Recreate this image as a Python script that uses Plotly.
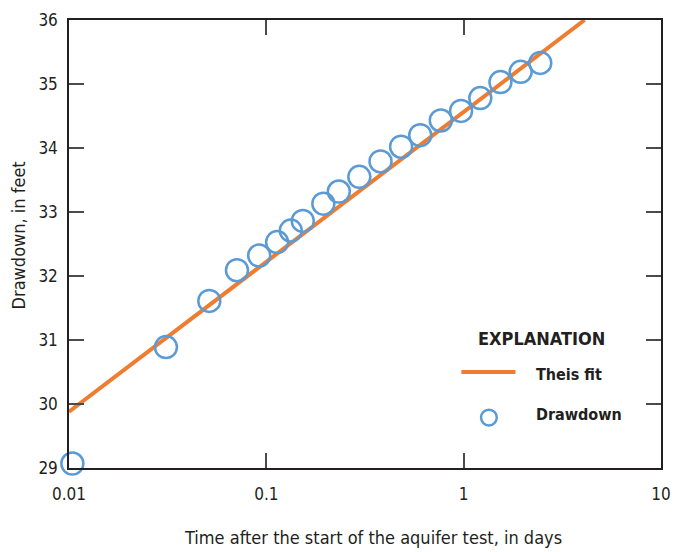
import plotly.graph_objects as go

# Observed drawdown during the aquifer test
time_days = [0.0104, 0.031, 0.0514, 0.071, 0.092, 0.1134, 0.133, 0.153, 0.1945,
             0.233, 0.296, 0.379, 0.482, 0.6025, 0.766, 0.970, 1.214, 1.536,
             1.945, 2.444]
drawdown_ft = [29.07, 30.89, 31.61, 32.09, 32.32, 32.53, 32.71, 32.86, 33.13,
               33.32, 33.55, 33.79, 34.02, 34.20, 34.43, 34.58, 34.78, 35.03,
               35.19, 35.33]

# Theis fit (straight line on semi-log axes)
fit_time = [0.01, 0.1, 1.0, 4.1]
fit_drawdown = [29.88, 32.22, 34.57, 36.0]

x_tickvals = [0.01, 0.1, 1, 10]
x_ticktext = ["0.01", "0.1", "1", "10"]
y_tickvals = [29, 30, 31, 32, 33, 34, 35, 36]

FONT = "Liberation Sans Narrow, Arial Narrow, DejaVu Sans Condensed, sans-serif"
ORANGE = "#EE7D31"
BLUE = "#5B9BD5"
AXIS = "#231F20"

fig = go.Figure()
fig.add_trace(go.Scatter(x=fit_time, y=fit_drawdown, mode="lines",
                         line=dict(color=ORANGE, width=4), showlegend=False))
fig.add_trace(go.Scatter(x=time_days, y=drawdown_ft, mode="markers",
                         marker=dict(symbol="circle-open", size=22, color=BLUE,
                                     line=dict(color=BLUE, width=2.5)),
                         cliponaxis=False, showlegend=False))

W, H = 681, 552
L, R, T, B = 69, 10, 15, 84
pw, ph = W - L - R, H - T - B


def px(x):
    return (x - L) / pw


def py(y):
    return (H - B - y) / ph


axis_common = dict(showline=True, linecolor=AXIS, linewidth=1.5, mirror="ticks",
                   ticks="inside", ticklen=15, tickwidth=1.5, tickcolor="#4a4a4a",
                   showgrid=False, zeroline=False,
                   tickfont=dict(family=FONT, size=17, color="#231F20"))

fig.update_layout(
    width=W, height=H,
    margin=dict(l=L, r=R, t=T, b=B),
    plot_bgcolor="white", paper_bgcolor="white",
    xaxis=dict(type="log", range=[-2, 1], tickvals=x_tickvals, ticktext=x_ticktext,
               ticklabelstandoff=10, **axis_common),
    yaxis=dict(range=[29, 36], tickvals=y_tickvals, ticklabelstandoff=6,
               **axis_common),
    font=dict(family=FONT, color="#231F20"),
)

annotations = [
    dict(text="Time after the start of the aquifer test, in days", x=px(378.5), y=py(538),
         font=dict(size=18)),
    dict(text="Drawdown, in feet", x=px(18), y=py(233), textangle=-90,
         font=dict(size=18)),
    dict(text="<b>EXPLANATION</b>", x=px(549.5), y=py(337), font=dict(size=18)),
    dict(text="<b>Theis fit</b>", x=px(542), y=py(373), xanchor="left",
         font=dict(size=16)),
    dict(text="<b>Drawdown</b>", x=px(542), y=py(414), xanchor="left",
         font=dict(size=16)),
]
for a in annotations:
    a.setdefault("xanchor", "center")
    fig.add_annotation(xref="paper", yref="paper", showarrow=False, yanchor="middle", **a)

fig.add_shape(type="line", xref="paper", yref="paper",
              x0=px(468), x1=px(523), y0=py(371), y1=py(371),
              line=dict(color=ORANGE, width=4))
fig.add_shape(type="circle", xref="paper", yref="paper",
              x0=px(488), x1=px(504), y0=py(409), y1=py(425),
              line=dict(color=BLUE, width=2.5))

fig.write_html("out.html")
